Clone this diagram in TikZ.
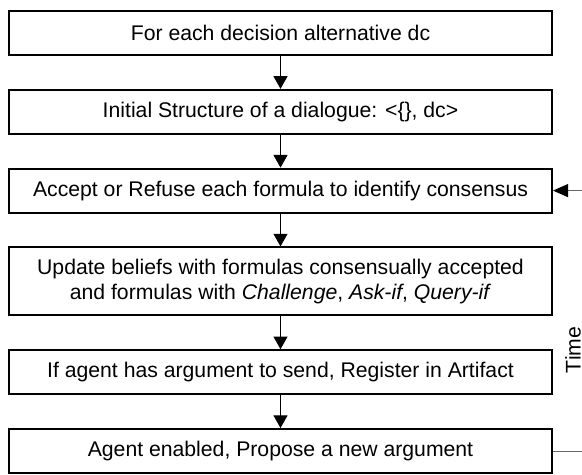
\documentclass[tikz,border=0pt]{standalone}
\usepackage{fontspec}
\setmainfont{Liberation Sans}
\usetikzlibrary{arrows.meta,positioning}

\begin{document}
\begin{tikzpicture}[->,>={Triangle[length=6.3pt,width=7pt]},line width=0.5pt,
                    node distance=16.4pt,
                    box/.style={draw,line width=1pt,minimum width=271.5pt,minimum height=22pt,
                                align=center,inner sep=2pt,font=\fontsize{10.6}{12.8}\selectfont},
                    loopline/.style={black!60,line width=0.5pt}]
        \useasboundingbox (0,0) rectangle (291pt,-237.5pt);

        \node[box] (alt) at (140.25pt,-16.5pt) {For each decision alternative dc};
        \node[box] (init) [below=of alt] {Initial Structure of a dialogue: <\{\}, dc>};
        \node[box] (accept) [below=of init] {Accept or Refuse each formula to identify consensus};
        \node[box,minimum height=34pt] (update) [below=of accept]
            {Update beliefs with formulas consensually accepted\\
             and formulas with \textit{Challenge}, \textit{Ask-if}, \textit{Query-if}};
        \node[box] (register) [below=of update] {If agent has argument to send, Register in Artifact};
        \node[box] (propose) [below=of register] {Agent enabled, Propose a new argument};

        % time axis on the right
        \node[rotate=90,font=\fontsize{10.6}{12.8}\selectfont,inner sep=0pt] (timelabel) at (286.5pt,-175pt) {Time};
        \coordinate (loopout) at ([xshift=15pt]propose.east);
        \coordinate (loopin) at ([xshift=15pt]accept.east);

        \path (alt) edge (init)
              (init) edge (accept)
              (accept) edge (update)
              (update) edge (register)
              (register) edge (propose);

        \draw[loopline,-] (propose.east) -- (loopout);
        \draw[loopline,-{Triangle[length=7.5pt,width=6.5pt,color=black]}] (loopin) -- (accept.east);
    \end{tikzpicture}
\end{document}
